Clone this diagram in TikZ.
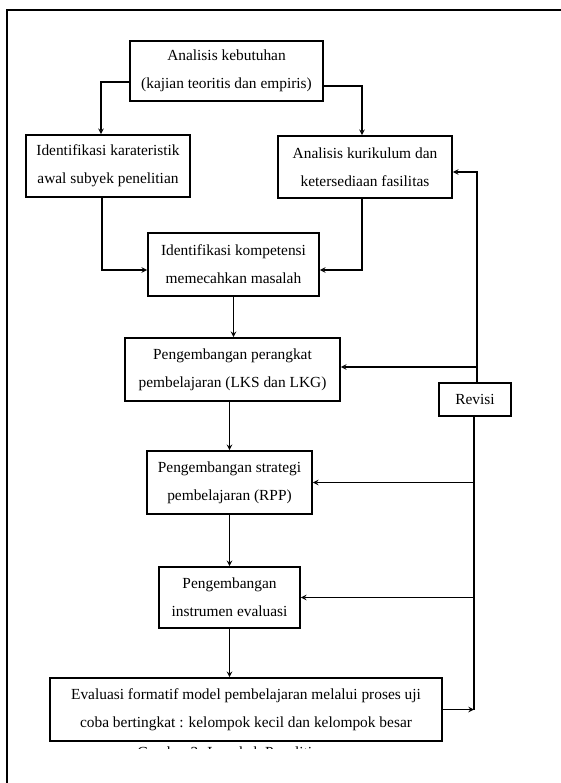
\documentclass[tikz,border=0pt]{standalone}
\usepackage{fontspec}
\setmainfont{Liberation Serif}
\usepackage{tikz}
\usetikzlibrary{arrows}

\begin{document}
\begin{tikzpicture}[->,>=stealth,x=1pt,y=-1pt,line width=1.5pt,
	font=\fontsize{15.4}{28}\selectfont]
	\tikzstyle{box}=[draw,rectangle,align=center,inner sep=0pt,line width=1.7pt]
	\useasboundingbox (0,0) rectangle (560,783);
	\draw[-] (570,10) -- (7,10) -- (7,790);
	\node[box,minimum width=193pt,minimum height=60pt] (ak) at (226.5,71) {Analisis kebutuhan\\(kajian teoritis dan empiris)};
	\node[box,minimum width=164pt,minimum height=62pt] (ik) at (108,166) {Identifikasi karateristik\\awal subyek penelitian};
	\node[box,minimum width=174pt,minimum height=62pt] (kur) at (365,167) {Analisis kurikulum dan\\ketersediaan fasilitas};
	\node[box,minimum width=171pt,minimum height=63pt] (kom) at (233.5,264.5) {Identifikasi kompetensi\\memecahkan masalah};
	\node[box,minimum width=215pt,minimum height=63pt] (prk) at (232.5,369.5) {Pengembangan perangkat\\pembelajaran (LKS dan LKG)};
	\node[box,minimum width=72pt,minimum height=33pt] (rev) at (475,399.5) {Revisi};
	\node[box,minimum width=165pt,minimum height=63pt] (str) at (229.5,482.5) {Pengembangan strategi\\pembelajaran (RPP)};
	\node[box,minimum width=141pt,minimum height=61pt] (ins) at (229.5,597.5) {Pengembangan\\instrumen evaluasi};
	\node[box,minimum width=392pt,minimum height=63pt] (eva) at (246,709.5) {Evaluasi formatif model pembelajaran melalui proses uji\\coba bertingkat : kelompok kecil dan kelompok besar};
	\coordinate (c1) at (474,709.5);
	\coordinate (c2) at (477,367);
	% alur utama
	\draw ([yshift=-11pt]ak.west) -| ([xshift=-7pt]ik.north);
	\draw ([yshift=-15pt]ak.east) -| ([xshift=-3pt]kur.north);
	\draw ([xshift=-6pt]ik.south) |- ([yshift=-5.5pt]kom.west);
	\draw ([xshift=-3pt]kur.south) |- ([yshift=-5.5pt]kom.east);
	\draw (kom.south) -- (kom.south |- prk.north);
	\draw (prk.south -| str.north) -- (str.north);
	\draw (str.south) -- (ins.north);
	\draw (ins.south) -- (ins.south |- eva.north);
	% revisi
	\draw (eva.east) -- (c1);
	\draw[-] (c1) -- (c1 |- rev.south);
	\draw ([xshift=2pt]rev.north) |- ([yshift=-5pt]kur.east);
	\draw (c2) -- (c2 -| prk.east);
	\draw (c1 |- str.east) -- (str.east);
	\draw (c1 |- ins.east) -- (ins.east);
	\begin{scope}
		\clip (0,0) rectangle (560,748);
		\node[anchor=base] (cap) at (232,757) {Gambar 3. Langkah Penelitian};
	\end{scope}
\end{tikzpicture}
\end{document}
